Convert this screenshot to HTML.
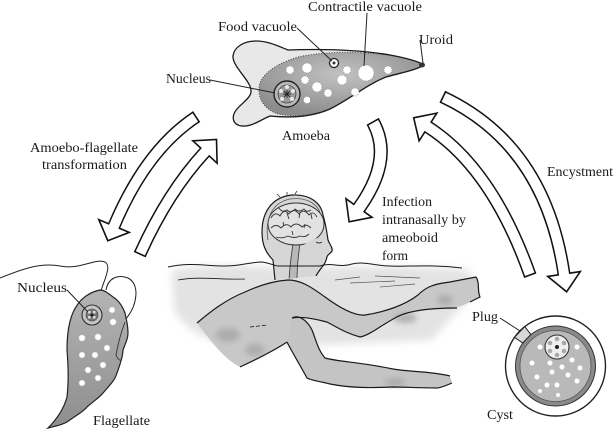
<!DOCTYPE html>
<html><head><meta charset="utf-8"><style>
html,body{margin:0;padding:0;background:#fff;}
svg{display:block;}
text{font-family:"Liberation Serif","Times New Roman",Times,serif;}
</style></head><body>
<svg width="616" height="434" viewBox="0 0 616 434" xmlns="http://www.w3.org/2000/svg">
<defs>
<filter id="b3" x="-20%" y="-20%" width="140%" height="140%"><feGaussianBlur stdDeviation="3"/></filter>
<filter id="b5" x="-20%" y="-30%" width="140%" height="160%"><feGaussianBlur stdDeviation="4"/></filter>
<radialGradient id="amb" cx="0.5" cy="0.35" r="0.65"><stop offset="0" stop-color="#c2c2c2"/><stop offset="1" stop-color="#8c8c8c"/></radialGradient>
<linearGradient id="flg" x1="0" y1="0" x2="0" y2="1"><stop offset="0" stop-color="#b4b4b4"/><stop offset="1" stop-color="#8e8e8e"/></linearGradient>
<clipPath id="headclip"><path d="M275,280 L273,260 C266,253 262,245 262,232 C262,212 272,197 292,195 C310,194 321,203 323,215 C326,225 327,233 328,240 C330,245 333,248 332,251 C330,254 327,255 327,257 C326,260 326,263 322,267 C320,270 318,272 316,276 L275,280 Z"/></clipPath>
</defs>
<rect width="616" height="434" fill="#fff"/>

<!-- ===== ARROWS ===== -->
<g stroke-linejoin="miter">
<path d="M196,117 Q146,150 114,226" stroke="#111" stroke-width="13" fill="none"/>
<polygon points="129.2,232.4 98.8,219.6 107.8,240.7" fill="#fff" stroke="#111" stroke-width="1.6"/>
<path d="M196,117 Q146,150 114,226 l-0.8,1.8" stroke="#fff" stroke-width="10" fill="none"/>
<line x1="199.6" y1="122.4" x2="192.4" y2="111.6" stroke="#111" stroke-width="1.6"/>
<path d="M140,254 Q168,192 205,152" stroke="#111" stroke-width="13" fill="none"/>
<polygon points="217.1,163.2 192.9,140.8 216.5,139.5" fill="#fff" stroke="#111" stroke-width="1.6"/>
<path d="M140,254 Q168,192 205,152 l1.4,-1.5" stroke="#fff" stroke-width="10" fill="none"/>
<line x1="145.9" y1="256.7" x2="134.1" y2="251.3" stroke="#111" stroke-width="1.6"/>
<path d="M530,275 Q492,168 428,127" stroke="#111" stroke-width="13" fill="none"/>
<polygon points="436.9,113.1 419.1,140.9 413.7,117.8" fill="#fff" stroke="#111" stroke-width="1.6"/>
<path d="M530,275 Q492,168 428,127 l-1.7,-1.1" stroke="#fff" stroke-width="10" fill="none"/>
<line x1="536.1" y1="272.8" x2="523.9" y2="277.2" stroke="#111" stroke-width="1.6"/>
<path d="M443,97 Q545,145 564,274" stroke="#111" stroke-width="13" fill="none"/>
<polygon points="547.7,276.4 580.3,271.6 566.6,291.8" fill="#fff" stroke="#111" stroke-width="1.6"/>
<path d="M443,97 Q545,145 564,274 l0.3,2" stroke="#fff" stroke-width="10" fill="none"/>
<line x1="440.2" y1="102.9" x2="445.8" y2="91.1" stroke="#111" stroke-width="1.6"/>
<path d="M373,122 Q393.8,159.4 359,208" stroke="#111" stroke-width="14" fill="none"/>
<polygon points="372,217.3 346,198.7 349.1,221.8" fill="#fff" stroke="#111" stroke-width="1.6"/>
<path d="M373,122 Q393.8,159.4 359,208 l-1.2,1.6" stroke="#fff" stroke-width="11" fill="none"/>
<line x1="379.1" y1="118.6" x2="366.9" y2="125.4" stroke="#111" stroke-width="1.6"/>
</g>

<!-- ===== AMOEBA ===== -->
<path d="M233,56 C234,47 244,41 256,41 C268,41 278,46 288,50 C315,49 355,49 390,55 C406,58 418,61 424,65 C417,70 400,73 386,77 C366,85 350,99 330,109 C312,117 290,118 270,116 C262,119 252,127 242,126 C232,125 231,116 237,109 C243,102 252,97 251,90 C250,80 232,66 233,56 Z" fill="#e8e8e8"/>
<path d="M259,90 C258,76 275,64 298,57 C325,51 362,51 395,56 C410,59 419,62 423,65 C416,70 400,73 386,77 C366,85 350,99 330,109 C312,116 292,117 278,114 C266,110 259,101 259,90 Z" fill="url(#amb)" stroke="#444" stroke-width="1" stroke-dasharray="1 1.6"/>
<path d="M233,56 C234,47 244,41 256,41 C268,41 278,46 288,50 C315,49 355,49 390,55 C406,58 418,61 424,65 C417,70 400,73 386,77 C366,85 350,99 330,109 C312,117 290,118 270,116 C262,119 252,127 242,126 C232,125 231,116 237,109 C243,102 252,97 251,90 C250,80 232,66 233,56 Z" fill="none" stroke="#1a1a1a" stroke-width="1.3"/>
<g fill="#fff" stroke="#999" stroke-width="1" stroke-dasharray="1 1.3">
<circle cx="290" cy="70" r="4"/><circle cx="307" cy="68" r="5"/><circle cx="305" cy="80" r="4"/>
<circle cx="317" cy="87" r="5"/><circle cx="328" cy="93" r="4"/><circle cx="307" cy="100" r="3.5"/>
<circle cx="342" cy="80" r="5"/><circle cx="347" cy="70" r="4"/><circle cx="355" cy="92" r="4"/>
<circle cx="388" cy="70" r="4"/><circle cx="366" cy="73" r="8"/>
</g>
<circle cx="334" cy="63" r="4.5" fill="#fff" stroke="#222" stroke-width="1.3"/>
<circle cx="334" cy="63" r="1.5" fill="#333"/>
<ellipse cx="422" cy="65" rx="3" ry="2.5" fill="#333"/>
<circle cx="287" cy="94" r="13" fill="#b8b8b8" stroke="#222" stroke-width="1.4"/>
<circle cx="287" cy="94" r="9" fill="#9a9a9a" stroke="#444" stroke-width="0.8"/>
<g fill="#e8e8e8"><circle cx="287" cy="87" r="2"/><circle cx="293" cy="91" r="2"/><circle cx="292" cy="99" r="2"/><circle cx="282" cy="99" r="2"/><circle cx="281" cy="91" r="2"/></g>
<g stroke="#222" stroke-width="0.9"><line x1="283" y1="94" x2="291" y2="94"/><line x1="287" y1="90" x2="287" y2="98"/><line x1="284" y1="91" x2="290" y2="97"/><line x1="290" y1="91" x2="284" y2="97"/></g>
<g stroke="#222" stroke-width="1" fill="none">
<line x1="297" y1="28" x2="332" y2="61"/>
<line x1="367" y1="13" x2="364" y2="66"/>
<line x1="420" y1="40" x2="423" y2="63"/>
<line x1="210" y1="80" x2="275" y2="93"/>
</g>

<!-- ===== FLAGELLATE ===== -->
<path d="M0,278 C20,270 40,262 60,266 C80,270 95,258 105,262 C112,266 104,280 101,291" fill="none" stroke="#222" stroke-width="1"/>
<path d="M106,290 C108,278 118,274 128,278 C140,284 138,305 125,320" fill="none" stroke="#222" stroke-width="1"/>
<path d="M100,290 C90,292 82,298 78,304 C70,314 67,330 67,350 C68,362 69,380 67,397 C64,408 58,418 48,428 C56,426 62,425 67,422 C75,416 83,412 87,407 C95,400 100,397 103,393 C110,385 115,380 117,373 C121,362 123,355 123,350 C126,342 128,338 128,333 C128,325 126,318 125,313 C122,305 118,300 113,297 C108,293 104,290 100,290 Z" fill="url(#flg)" stroke="#222" stroke-width="1.2"/>
<path d="M125,322 C120,335 118,345 116,355 C118,360 121,362 122,358" fill="none" stroke="#333" stroke-width="0.9"/>
<g fill="#fff" stroke="#bbb" stroke-width="0.8" stroke-dasharray="1 1">
<circle cx="112" cy="310" r="3"/><circle cx="113" cy="322" r="3.2"/><circle cx="82" cy="338" r="3.2"/>
<circle cx="98" cy="337" r="3.2"/><circle cx="107" cy="348" r="3"/><circle cx="82" cy="355" r="3"/>
<circle cx="95" cy="355" r="3"/><circle cx="88" cy="370" r="3"/><circle cx="103" cy="365" r="3"/>
<circle cx="98" cy="378" r="3"/><circle cx="82" cy="383" r="3"/>
</g>
<circle cx="92" cy="315" r="10" fill="#c4c4c4" stroke="#333" stroke-width="1.1"/>
<circle cx="92" cy="315" r="6" fill="#777" stroke="#444" stroke-width="0.6"/>
<g fill="#ddd"><rect x="88" y="311" width="2.5" height="2.5"/><rect x="93" y="311" width="2.5" height="2.5"/><rect x="88" y="316" width="2.5" height="2.5"/><rect x="93" y="316" width="2.5" height="2.5"/></g>
<circle cx="92" cy="315" r="1.6" fill="#222"/>
<line x1="67" y1="290" x2="88" y2="312" stroke="#222" stroke-width="1"/>

<!-- ===== SWIMMER ===== -->
<path d="M172,270 C200,266 230,264 260,267 L330,267 C380,266 430,267 470,270 L472,296 C458,310 444,326 432,340 L250,348 C208,344 185,330 174,310 Z" fill="#e3e3e3" filter="url(#b5)"/>
<path d="M275,280 L273,260 C266,253 262,245 262,232 C262,212 272,197 292,195 C310,194 321,203 323,215 C326,225 327,233 328,240 C330,245 333,248 332,251 C330,254 327,255 327,257 C326,260 326,263 322,267 C320,270 318,272 316,276 L275,280 Z" fill="#d6d6d6"/>
<g clip-path="url(#headclip)">
<path d="M293,243 C292,252 290,262 289,280 L297,280 C297,262 299,252 300,243 Z" fill="#b8b8b8" stroke="#333" stroke-width="0.8"/>
<ellipse cx="296" cy="224" rx="28" ry="21" fill="#e2e2e2" stroke="#333" stroke-width="1"/>
<g fill="none" stroke="#333" stroke-width="0.9">
<path d="M271,218 q4,-7 9,-2 q4,-8 9,-2 q5,-7 10,0 q5,-6 10,1 q4,-5 8,2"/>
<path d="M271,228 q5,-5 10,0 q5,-6 10,-1 q5,-6 11,0 q4,-4 9,1"/>
<path d="M279,208 q3,5 8,2 q4,4 8,-1 q4,4 9,0 q3,4 7,1"/>
<path d="M276,237 q6,2 12,-1 q6,3 12,0 q5,2 9,-2"/>
<path d="M287,213 l2,6 M300,212 l-1,6 M311,214 l1,5 M283,222 l1,4 M305,224 l-1,4 M292,231 l1,4"/>
</g>
<path d="M302,246 C310,240 320,236 330,236 L340,270 L300,270 Z" fill="#d6d6d6"/>
</g>
<path d="M275,280 L273,260 C266,253 262,245 262,232 C262,212 272,197 292,195 C310,194 321,203 323,215 C326,225 327,233 328,240 C330,245 333,248 332,251 C330,254 327,255 327,257 C326,260 326,263 322,267 C320,270 318,272 316,276" fill="none" stroke="#1a1a1a" stroke-width="1.2"/>
<path d="M268,240 C265,222 270,203 290,199 C306,197 316,203 320,212" fill="none" stroke="#555" stroke-width="0.8"/>
<path d="M280,197 l-3,-3 M287,195 l0,-3 M295,194 l2,-3" stroke="#333" stroke-width="0.8"/>
<path d="M316,242 q3,2 6,0" fill="none" stroke="#333" stroke-width="0.9"/>
<path d="M197,323 C210,312 225,300 245,292 C258,286 272,281 288,280 C300,280 310,286 325,297 C340,308 355,316 365,315 C385,312 405,305 418,295 C425,288 432,284 450,282 L476,277 C480,283 478,292 480,297 L470,302 C462,306 457,308 445,308 C425,308 405,312 395,318 C380,326 370,335 360,337 C345,333 335,326 325,322 C312,318 300,315 292,318 L287,342 C275,350 255,360 240,367 C225,360 210,340 197,323 Z" fill="#c8c8c8"/>
<path d="M292,318 C300,314 308,322 312,330 C316,340 318,350 325,358 C340,362 360,362 393,369 C410,372 430,371 450,376 L452,383 C445,386 440,388 437,388 C420,388 405,387 393,387 C370,388 350,388 330,384 C318,381 310,380 307,378 C300,365 292,352 287,342 Z" fill="#c4c4c4"/>
<g filter="url(#b3)" fill="#a6a6a6" opacity="0.8">
<ellipse cx="228" cy="335" rx="12" ry="7"/><ellipse cx="405" cy="318" rx="12" ry="5"/>
<ellipse cx="445" cy="300" rx="8" ry="5"/><ellipse cx="395" cy="382" rx="10" ry="4"/>
<ellipse cx="255" cy="350" rx="10" ry="6"/>
</g>
<g fill="none" stroke="#1a1a1a" stroke-width="1.2">
<path d="M197,323 C210,312 225,300 245,292 C258,286 272,281 288,280 C300,280 310,286 325,297 C340,308 355,316 365,315 C385,312 405,305 418,295 C425,288 432,284 450,282 L476,277"/>
<path d="M476,277 C480,283 477,290 480,297 L470,302"/>
<path d="M457,308 C425,308 405,312 395,318 C380,326 370,335 360,337"/>
<path d="M292,318 C305,316 318,320 327,322 C335,326 345,333 360,337"/>
<path d="M292,318 C300,314 308,322 312,330 C316,340 318,350 325,358 C340,362 360,362 393,369 C410,372 430,371 450,376"/>
<path d="M452,383 C445,386 440,388 437,388 C420,388 405,387 393,387 C370,388 350,388 330,384 C318,381 310,380 307,378 C300,365 292,352 287,342"/>
<path d="M240,367 C255,360 275,350 287,342"/>
<path d="M250,327 L268,325" stroke-dasharray="4 2" stroke-width="0.8"/>
</g>
<g fill="none" stroke="#1a1a1a" stroke-width="1">
<path d="M168,267 C190,262 205,266 225,266 C240,266 250,262 262,262 C270,263 275,266 278,266"/>
<path d="M278,266 L320,266"/>
<path d="M320,266 C330,262 340,268 352,264 C365,261 375,266 390,266 C410,267 430,264 462,268"/>
<path d="M178,280 C200,276 222,280 245,279" stroke-width="0.8"/>
<path d="M335,280 L360,277 M350,283 L395,281 M375,276 L420,278 M380,287 L415,284" stroke-width="0.7" stroke="#555"/>
</g>

<!-- ===== CYST ===== -->
<circle cx="555.5" cy="366" r="50" fill="#fff" stroke="#222" stroke-width="1.4"/>
<circle cx="555.5" cy="366" r="40" fill="#8a8a8a" stroke="#333" stroke-width="1"/>
<circle cx="555.5" cy="366" r="35.5" fill="#b9b9b9" stroke="#555" stroke-width="0.8"/>
<polygon points="514.5,337.3 524.7,326.6 530.9,334.5 522.7,343" fill="#d8d8d8" stroke="#222" stroke-width="1"/>
<g fill="#fff" stroke="#ddd" stroke-width="0.6" stroke-dasharray="1 1">
<circle cx="540" cy="347" r="2.5"/><circle cx="532" cy="363" r="2.5"/><circle cx="550" cy="363" r="2.5"/>
<circle cx="562" cy="367" r="2.5"/><circle cx="580" cy="368" r="2.5"/><circle cx="537" cy="377" r="2.5"/>
<circle cx="552" cy="372" r="2.5"/><circle cx="568" cy="375" r="2.5"/><circle cx="577" cy="381" r="2.5"/>
<circle cx="547" cy="385" r="2.5"/><circle cx="557" cy="385" r="2.5"/><circle cx="540" cy="391" r="2"/>
<circle cx="558" cy="395" r="2"/><circle cx="577" cy="347" r="2.5"/><circle cx="572" cy="360" r="2.5"/>
</g>
<circle cx="557" cy="347" r="12" fill="#efefef" stroke="#333" stroke-width="1.1"/>
<g fill="#aaa"><circle cx="557" cy="339" r="2.3"/><circle cx="564" cy="343" r="2.3"/><circle cx="564" cy="351" r="2.3"/><circle cx="557" cy="355" r="2.3"/><circle cx="550" cy="351" r="2.3"/><circle cx="550" cy="343" r="2.3"/></g>
<circle cx="557" cy="347" r="2" fill="#222"/>
<line x1="500" y1="318" x2="520" y2="331" stroke="#222" stroke-width="1"/>

<!-- ===== LABELS ===== -->
<g font-family="'Liberation Serif','Times New Roman',Times,serif" font-size="14" fill="#1a1a1a">
<text x="308" y="11" textLength="114" lengthAdjust="spacingAndGlyphs">Contractile vacuole</text>
<text x="218" y="31" textLength="79" lengthAdjust="spacingAndGlyphs">Food vacuole</text>
<text x="419" y="44" textLength="34" lengthAdjust="spacingAndGlyphs">Uroid</text>
<text x="166" y="83" textLength="45" lengthAdjust="spacingAndGlyphs">Nucleus</text>
<text x="282" y="140" textLength="48" lengthAdjust="spacingAndGlyphs">Amoeba</text>
<text x="30" y="152" textLength="108" lengthAdjust="spacingAndGlyphs">Amoebo-flagellate</text>
<text x="42" y="169" textLength="85" lengthAdjust="spacingAndGlyphs">transformation</text>
<text x="382" y="206" textLength="50" lengthAdjust="spacingAndGlyphs">Infection</text>
<text x="382" y="224" textLength="84" lengthAdjust="spacingAndGlyphs">intranasally by</text>
<text x="382" y="242" textLength="56" lengthAdjust="spacingAndGlyphs">ameoboid</text>
<text x="382" y="260" textLength="26" lengthAdjust="spacingAndGlyphs">form</text>
<text x="547" y="176" textLength="66" lengthAdjust="spacingAndGlyphs">Encystment</text>
<text x="17" y="292" textLength="50" lengthAdjust="spacingAndGlyphs">Nucleus</text>
<text x="93" y="425" textLength="57" lengthAdjust="spacingAndGlyphs">Flagellate</text>
<text x="472" y="321" textLength="26" lengthAdjust="spacingAndGlyphs">Plug</text>
<text x="487" y="419" textLength="26" lengthAdjust="spacingAndGlyphs">Cyst</text>
</g>
</svg>
</body></html>
